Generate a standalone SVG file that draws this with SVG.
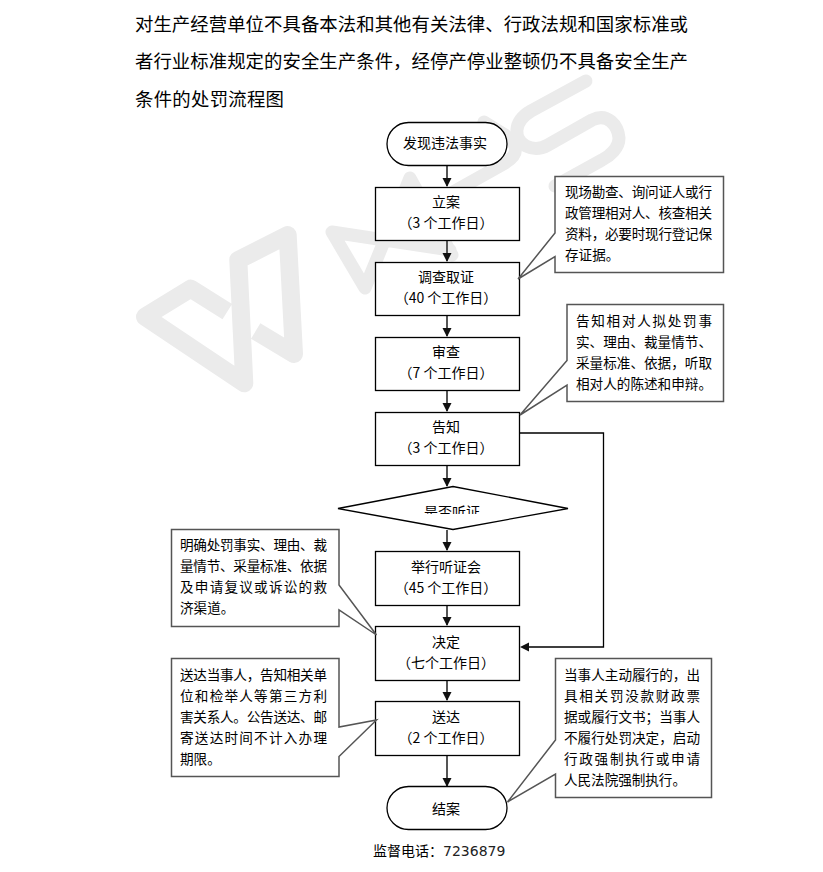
<svg xmlns="http://www.w3.org/2000/svg" width="823" height="872" viewBox="0 0 823 872">
<style>
text{font-family:"Noto Sans CJK SC","Liberation Sans",sans-serif;fill:#000}
.t{font-size:18.4px;font-weight:400}
.n{font-size:14px;text-anchor:middle}
.c{font-size:13.6px}
.b{fill:#fff;stroke:#000;stroke-width:1.3}
.co{fill:#fff;stroke:#555;stroke-width:1.5}
.wm{fill:none;stroke:#ebebeb;stroke-width:13;stroke-linejoin:round;stroke-linecap:round}
.l{fill:none;stroke:#555;stroke-width:2;marker-end:url(#a)}
.k{fill:none;stroke:#000;stroke-width:1.3}
</style>
<defs>
<marker id="a" markerUnits="userSpaceOnUse" markerWidth="10" markerHeight="10" refX="8" refY="4.500" orient="auto"><path d="M0 0L9 4.500L0 9Z" fill="#111"/></marker>
<clipPath id="dc"><rect x="400" y="500" width="100" height="14"/></clipPath>
</defs>
<rect width="823" height="872" fill="#fff"/>
<g id="watermark">
<path class="wm" style="stroke-width:18;stroke-linecap:butt" d="M227.300 311.700L190.700 288.700L145 316.700L244.300 383.300L238.300 260L287.700 235L294 354L255.700 331"/>
<path class="wm" d="M452 255L410 178L365 288L332 232L450 250"/>
<path class="wm" d="M484 122L505 135Q526 150 505 163L430 205"/>
<path class="wm" d="M586 81L531 111C512 122 514 140 526 146C534 150 541 149 548 145L592 120C608 112 618 126 619 138C619 148 610 156 602 160L555 186"/>
</g>
<g id="title">
<text class="t" x="135" y="31" textLength="553" lengthAdjust="spacing">对生产经营单位不具备本法和其他有关法律、行政法规和国家标准或</text>
<text class="t" x="135" y="68" textLength="553" lengthAdjust="spacing">者行业标准规定的安全生产条件，经停产停业整顿仍不具备安全生产</text>
<text class="t" x="135" y="106" textLength="149" lengthAdjust="spacing">条件的处罚流程图</text>
</g>
<g id="connectors">
<path class="l" d="M447 165V186"/>
<path class="l" d="M447 241V261"/>
<path class="l" d="M447 316V336"/>
<path class="l" d="M447 391V411"/>
<path class="l" d="M447 466V486"/>
<path class="l" d="M447 530V550"/>
<path class="l" d="M447 606V625"/>
<path class="l" d="M447 681V700"/>
<path class="l" d="M447 756V786"/>
<path class="k" d="M520 433H603.500V647H529"/>
<path d="M520 647L529 642.500V651.500Z" fill="#111"/>
</g>
<g id="n1"><rect class="b" x="387" y="122.500" width="120" height="43" rx="21.500"/><text class="n" x="445" y="148">发现违法事实</text></g>
<g id="n2"><rect class="b" x="375.500" y="187.500" width="144" height="53"/><text class="n" x="446" y="207">立案</text><text class="n" x="446" y="228">（3 个工作日）</text></g>
<g id="n3"><rect class="b" x="375.500" y="262.500" width="144" height="53"/><text class="n" x="446" y="282">调查取证</text><text class="n" x="446" y="303">（40 个工作日）</text></g>
<g id="n4"><rect class="b" x="375.500" y="337.500" width="144" height="53"/><text class="n" x="446" y="357">审查</text><text class="n" x="446" y="378">（7 个工作日）</text></g>
<g id="n5"><rect class="b" x="375.500" y="412.500" width="144" height="53"/><text class="n" x="446" y="432">告知</text><text class="n" x="446" y="453">（3 个工作日）</text></g>
<g id="n6"><path class="b" d="M338 508.500L453 486.500L568 508.500L453 529.500Z"/><text class="n" x="452" y="517" clip-path="url(#dc)">是否听证</text></g>
<g id="n7"><rect class="b" x="375.500" y="551.500" width="144" height="54"/><text class="n" x="446" y="572">举行听证会</text><text class="n" x="446" y="593">（45 个工作日）</text></g>
<g id="n8"><rect class="b" x="375.500" y="626.500" width="144" height="54"/><text class="n" x="446" y="647">决定</text><text class="n" x="446" y="668">（七个工作日）</text></g>
<g id="n9"><rect class="b" x="375.500" y="701.500" width="144" height="54"/><text class="n" x="446" y="722">送达</text><text class="n" x="446" y="743">（2 个工作日）</text></g>
<g id="n10"><rect class="b" x="387" y="786.500" width="120" height="43" rx="21.500"/><text class="n" x="446" y="814">结案</text></g>
<g id="c1"><path class="co" d="M555 176.500H723.500V272.500H555V256.500L518 279L555 233Z"/>
<text class="c" x="565" y="197" textLength="147">现场勘查、询问证人或行</text><text class="c" x="565" y="218" textLength="147">政管理相对人、核查相关</text><text class="c" x="565" y="239" textLength="147">资料，必要时现行登记保</text><text class="c" x="565" y="260">存证据。</text></g>
<g id="c2"><path class="co" d="M567 304.500H723.500V401.500H567V385L520 415L567 360.500Z"/>
<text class="c" x="576" y="326" textLength="136">告知相对人拟处罚事</text><text class="c" x="576" y="347" textLength="136">实、理由、裁量情节、</text><text class="c" x="576" y="368" textLength="136">采量标准、依据，听取</text><text class="c" x="576" y="389" textLength="136">相对人的陈述和申辩。</text></g>
<g id="c3"><path class="co" d="M171.500 529.500H339V585L376.500 635L339 610V626.500H171.500Z"/>
<text class="c" x="180" y="550" textLength="147">明确处罚事实、理由、裁</text><text class="c" x="180" y="571" textLength="147">量情节、采量标准、依据</text><text class="c" x="180" y="592" textLength="147">及申请复议或诉讼的救</text><text class="c" x="180" y="613">济渠道。</text></g>
<g id="c4"><path class="co" d="M171.500 658.500H339V727L376.500 720L339 756.500V776.500H171.500Z"/>
<text class="c" x="180" y="680" textLength="147">送达当事人，告知相关单</text><text class="c" x="180" y="701" textLength="147">位和检举人等第三方利</text><text class="c" x="180" y="722" textLength="147">害关系人。公告送达、邮</text><text class="c" x="180" y="743" textLength="147">寄送达时间不计入办理</text><text class="c" x="180" y="764">期限。</text></g>
<g id="c5"><path class="co" d="M555.500 658.500H711.500V797.500H555.500V774L507.500 802L555.500 740Z"/>
<text class="c" x="564" y="680" textLength="136">当事人主动履行的，出</text><text class="c" x="564" y="701" textLength="136">具相关罚没款财政票</text><text class="c" x="564" y="722" textLength="136">据或履行文书；当事人</text><text class="c" x="564" y="743" textLength="136">不履行处罚决定，启动</text><text class="c" x="564" y="764" textLength="136">行政强制执行或申请</text><text class="c" x="564" y="785" textLength="122">人民法院强制执行。</text></g>
<g id="phone"><text x="373" y="856" font-size="14">监督电话：<tspan style="font-family:'DejaVu Sans',sans-serif;fill:#222">7236879</tspan></text></g>
</svg>
